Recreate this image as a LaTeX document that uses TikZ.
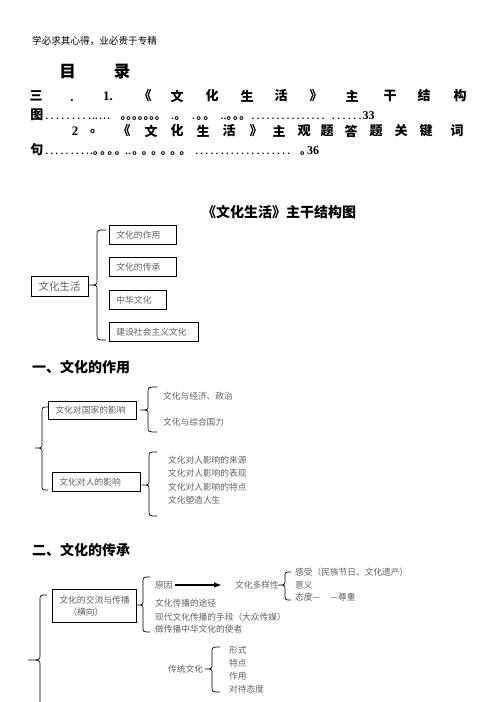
\documentclass[tikz,border=0pt]{standalone}
\usepackage{fontspec}
\setmainfont{Liberation Serif}
\newfontfamily\cjk{Noto Sans CJK SC}
\usetikzlibrary{arrows.meta}
\newcommand\dotrow[2]{\xleaders\hbox to #2pt{\hss.\hss}\hskip #1pt\relax}
\newcommand\circrow[2]{\xleaders\hbox to #2pt{{\cjk\bfseries\fontsize{11.4}{12}\selectfont ｡}\hss}\hskip #1pt\relax}
\newcommand\curlyb[6]{% tipx, linex, pointx, ytop, ymid, ybot
  \draw[brc] (#1,#4) .. controls (#2,#4) .. (#2,#4+6) -- (#2,#5-5)
    .. controls (#2,#5) .. (#3,#5) .. controls (#2,#5) .. (#2,#5+5)
    -- (#2,#6-6) .. controls (#2,#6) .. (#1,#6);}
\tikzset{
  brc/.style={line width=0.7pt, black},
  cj/.style={font=\cjk\fontsize{8.7}{10}\selectfont, text=black!62, inner sep=0pt, anchor=west},
  bx/.style={draw=black, line width=0.7pt, font=\cjk\fontsize{8.8}{12}\selectfont, text=black!62,
    inner xsep=7pt, inner ysep=0pt, minimum height=19pt, anchor=north west, align=left},
  toc/.style={font=\cjk\bfseries\fontsize{13}{13}\selectfont, inner sep=0pt, anchor=center},
  tocn/.style={font=\bfseries\fontsize{13}{13}\selectfont, inner sep=0pt, anchor=center},
  tocd/.style={font=\bfseries\fontsize{10}{12}\selectfont, inner sep=0pt, anchor=base west},
  head/.style={font=\cjk\bfseries\fontsize{14}{14}\selectfont, inner sep=0pt},
}
\begin{document}
\begin{tikzpicture}[x=1pt,y=-1pt]
\fill[white] (0,0) rectangle (496,702);
\useasboundingbox (0,0) rectangle (496,702);

% page header
\node[inner sep=0pt, anchor=west, font=\cjk\fontsize{9.6}{10}\selectfont] (hdr) at (32,41) {学必求其心得，业必贵于专精};

% title
\node[head, font=\cjk\bfseries\fontsize{16.5}{17}\selectfont] (mu) at (67.5,72) {目};
\node[head, font=\cjk\bfseries\fontsize{16.5}{17}\selectfont] (lu) at (122,72) {录};

% TOC line 1
\node[toc] (t1a) at (36,96) {三};
\node[tocn, anchor=base] (t1b) at (72,101) {.};
\node[tocn] (t1c) at (108,96) {1.};
\node[toc] (t1d) at (145,96) {《};
\node[toc] (t1e) at (177,96) {文};
\node[toc] (t1f) at (212,96) {化};
\node[toc] (t1g) at (247,96) {生};
\node[toc] (t1h) at (281,96) {活};
\node[toc] (t1i) at (316,96) {》};
\node[toc] (t1j) at (352,96) {主};
\node[toc] (t1k) at (390,96) {干};
\node[toc] (t1l) at (424,96) {结};
\node[toc] (t1m) at (460,96) {构};

% TOC line 2
\node[toc] (t2a) at (37,115) {图};
\node[tocd] (t2b) at (44,119) {\dotrow{48}{5.3}\dotrow{5.5}{2.75}\hskip1pt\dotrow{12}{4}\hskip10pt\circrow{40}{5.7}\hskip10pt
  \dotrow{4}{4}\circrow{6}{6}\hskip10pt\dotrow{6}{6}\circrow{14}{7}\hskip10pt\dotrow{6}{3}\circrow{19}{6.3}\hskip5pt
  \dotrow{75}{5}\hskip5pt\dotrow{32}{5.33}{\fontsize{12}{12}\selectfont 33}};

% TOC line 3
\node[tocn] (t3a) at (75,131) {2};
\node[toc, anchor=west] (t3b) at (90,131) {。};
\node[toc] (t3c) at (124,131) {《};
\node[toc] (t3d) at (151,131) {文};
\node[toc] (t3e) at (177,131) {化};
\node[toc] (t3f) at (203,131) {生};
\node[toc] (t3g) at (229,131) {活};
\node[toc] (t3h) at (256,131) {》};
\node[toc] (t3i) at (279,131) {主};
\node[toc] (t3j) at (304,131) {观};
\node[toc] (t3k) at (327,131) {题};
\node[toc] (t3l) at (351,131) {答};
\node[toc] (t3m) at (376,131) {题};
\node[toc] (t3n) at (401,131) {关};
\node[toc] (t3o) at (426,131) {键};
\node[toc] (t3p) at (457,131) {词};

% TOC line 4
\node[toc] (t4a) at (37,150) {句};
\node[tocd] (t4b) at (44,154) {\dotrow{46}{5.1}\dotrow{3}{3}\circrow{29}{7.25}\hskip3pt\dotrow{6}{3}\circrow{58}{8.3}\hskip5pt
  \dotrow{97}{5.1}\hskip9pt\circrow{7}{7}{\fontsize{12}{12}\selectfont 36}};

% ===== main structure =====
\node[head] (mtitle) at (279,212) {《文化生活》主干结构图};

\node[bx, text width=53pt] (n1) at (109,225) {文化的作用};
\node[bx, text width=53pt] (n2) at (109,257) {文化的传承};
\node[bx, text width=43pt] (n3) at (109,290) {中华文化};
\node[bx, text width=75pt] (n4) at (109,322) {建设社会主义文化};
\node[draw=black, line width=0.7pt, font=\cjk\fontsize{10.5}{12}\selectfont, text=black!62,
  minimum width=57pt, minimum height=20pt, inner sep=0pt] (root) at (59.5,286) {文化生活};
\curlyb{106}{97}{88}{230}{285}{340}

% ===== section 1 =====
\node[head, anchor=west] (s1) at (32,367) {一、文化的作用};

\node[bx, text width=74pt, minimum height=18pt] (a) at (48,401) {文化对国家的影响};
\node[bx, text width=74pt] (b) at (52,472) {文化对人的影响};
\curlyb{48}{42}{35}{407}{448}{490}
\curlyb{157}{148}{140}{387}{410}{432}
\curlyb{157}{149}{142}{452}{485}{516}

\node[cj] (a1) at (163,396) {文化与经济、政治};
\node[cj] (a2) at (163,422) {文化与综合国力};
\node[cj] (b1) at (168,460) {文化对人影响的来源};
\node[cj] (b2) at (168,473.3) {文化对人影响的表现};
\node[cj] (b3) at (168,486.7) {文化对人影响的特点};
\node[cj] (b4) at (168,500) {文化塑造人生};

% ===== section 2 =====
\node[head, anchor=west] (s2) at (32,550) {二、文化的传承};

\node[bx, text width=70pt, minimum height=33pt, inner ysep=2pt] (c) at (52,589)
  {文化的交流与传播\\\hspace*{9pt}（横向）};
\curlyb{47}{40}{28}{595}{660}{715}
\curlyb{150}{143}{137}{577}{605}{632}

\node[cj] (yy) at (155,585) {原因};
\node[cj] (dy) at (235,585) {文化多样性};
\draw[line width=1.3pt, -{Latex[length=8pt,width=5.5pt]}, shorten <=2pt, shorten >=13pt] (yy.east) -- (dy.west);
\curlyb{291}{285}{278}{572}{585}{600}
\node[cj] (d1) at (295,572) {感受（民族节日、文化遗产）};
\node[cj] (d2) at (295,585) {意义};
\node[cj] (d3) at (295,597) {态度—\hspace{10pt}—尊重};

\node[cj] (c2) at (155,603) {文化传播的途径};
\node[cj] (c3) at (155,617) {现代文化传播的手段（大众传媒）};
\node[cj] (c4) at (155,629) {做传播中华文化的使者};

\node[cj] (ct) at (168,669) {传统文化};
\curlyb{220}{212}{205}{647}{669}{692}
\node[cj] (e1) at (229,650) {形式};
\node[cj] (e2) at (229,663) {特点};
\node[cj] (e3) at (229,676) {作用};
\node[cj] (e4) at (229,689) {对待态度};
\end{tikzpicture}
\end{document}
